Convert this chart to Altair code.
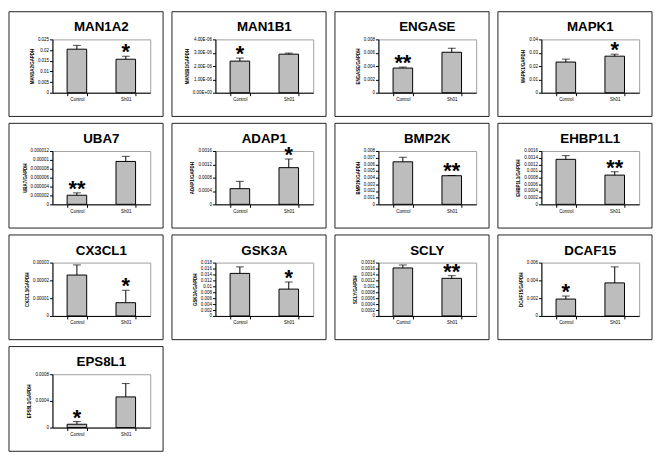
import altair as alt
import pandas as pd

genes = ["MAN1A2", "MAN1B1", "ENGASE", "MAPK1", "UBA7", "ADAP1", "BMP2K",
         "EHBP1L1", "CX3CL1", "GSK3A", "SCLY", "DCAF15", "EPS8L1"]
groups = ["Control", "Sh01"]

control_mean = [0.0204, 2.37e-6, 0.0037, 0.023, 2.05e-6, 0.00047, 0.00638,
                0.00135, 2.3e-5, 0.01436, 0.00162, 0.0019, 0.00005]
control_err = [0.0018, 0.23e-6, 0.00015, 0.0022, 0.53e-6, 0.00022, 0.00068,
               0.00011, 0.57e-5, 0.0022, 0.0001, 0.00034, 0.00004]
sh01_mean = [0.0157, 2.89e-6, 0.00607, 0.0274, 9.65e-6, 0.0011, 0.00429,
             0.000877, 0.745e-5, 0.00906, 0.00127, 0.00372, 0.00046]
sh01_err = [0.0014, 0.08e-6, 0.0006, 0.0015, 1.15e-6, 0.00026, 0.00003,
            0.0001, 0.7e-5, 0.0024, 0.00009, 0.0018, 0.0002]
stars_control = ["", "*", "**", "", "**", "", "", "", "", "", "", "*", "*"]
stars_sh01 = ["*", "", "", "*", "", "*", "**", "**", "*", "*", "**", "", ""]

y_ticks = [
    [0, 0.005, 0.01, 0.015, 0.02, 0.025],
    [0, 1e-6, 2e-6, 3e-6, 4e-6],
    [0, 0.002, 0.004, 0.006, 0.008],
    [0, 0.01, 0.02, 0.03, 0.04],
    [0, 2e-6, 4e-6, 6e-6, 8e-6, 1e-5, 1.2e-5],
    [0, 0.0004, 0.0008, 0.0012, 0.0016],
    [0, 0.001, 0.002, 0.003, 0.004, 0.005, 0.006, 0.007, 0.008],
    [0, 0.0002, 0.0004, 0.0006, 0.0008, 0.001, 0.0012, 0.0014, 0.0016],
    [0, 1e-5, 2e-5, 3e-5],
    [0, 0.002, 0.004, 0.006, 0.008, 0.01, 0.012, 0.014, 0.016, 0.018],
    [0, 0.0002, 0.0004, 0.0006, 0.0008, 0.001, 0.0012, 0.0014, 0.0016, 0.0018],
    [0, 0.002, 0.004, 0.006],
    [0, 0.0004, 0.0008],
]

FONT = "Liberation Sans"
PW, PH = 99, 54


def panel(i):
    g = genes[i]
    df = pd.DataFrame({
        "group": groups,
        "value": [control_mean[i], sh01_mean[i]],
        "err": [control_err[i], sh01_err[i]],
        "star": [stars_control[i], stars_sh01[i]],
    })
    df["top"] = df["value"] + df["err"]
    ticks = y_ticks[i]
    yscale = alt.Scale(domain=[ticks[0], ticks[-1]], nice=False, zero=True)
    axis_kw = dict(title=f"{g}/GAPDH", values=ticks, grid=False)
    if g == "MAN1B1":
        axis_kw["labelExpr"] = ("replace(replace(upper(format(datum.value, '.2e')), "
                                "'E-', 'E-0'), 'E+', 'E+0')")
    else:
        axis_kw["format"] = "~g"
    yaxis = alt.Axis(**axis_kw)
    xenc = alt.X("group:N", sort=groups,
                 scale=alt.Scale(paddingInner=0.6, paddingOuter=0.3),
                 axis=alt.Axis(title=None, labelAngle=0, tickBand="extent"))

    base = alt.Chart(df)
    bars = base.mark_bar(color="#bdbdbd", stroke="black", strokeWidth=1).encode(
        x=xenc, y=alt.Y("value:Q", scale=yscale, axis=yaxis))
    rule = base.mark_rule(color="black", strokeWidth=1).encode(
        x=xenc, y=alt.Y("value:Q", scale=yscale, axis=yaxis), y2="top:Q")
    cap = base.mark_tick(color="black", thickness=1, size=8).encode(
        x=xenc, y=alt.Y("top:Q", scale=yscale, axis=yaxis))
    star = base.mark_text(font=FONT, fontSize=22, fontWeight="bold",
                          align="center", baseline="alphabetic", dy=3,
                          color="black").encode(
        x=xenc, y=alt.Y("top:Q", scale=yscale, axis=yaxis), text="star:N")

    one = pd.DataFrame({"t": [g]})
    frame = alt.Chart(one).mark_rect(fillOpacity=0, stroke="#222222",
                                     strokeWidth=1).encode(
        x=alt.value(-44), x2=alt.value(112), y=alt.value(-28), y2=alt.value(78))
    title = alt.Chart(one).mark_text(font=FONT, fontSize=13.5, fontWeight="bold",
                                     align="center", baseline="alphabetic",
                                     color="black").encode(
        x=alt.value(PW / 2), y=alt.value(-8), text="t:N")
    return alt.layer(frame, bars, rule, cap, star, title).properties(
        width=PW, height=PH)


chart = alt.concat(*[panel(i) for i in range(len(genes))], columns=4,
                   spacing={"row": 5, "column": 7}).properties(
    padding=0, background="white"
).configure_view(
    stroke="#a0a0a0", strokeWidth=1
).configure_axis(
    labelFont=FONT, titleFont=FONT, labelFontSize=4.5, titleFontSize=4.5,
    labelColor="black", titleColor="black", domainColor="black",
    tickColor="black", tickSize=3, domainWidth=1, labelPadding=1,
    titlePadding=3, titleFontWeight="bold"
)

chart.save("out.html", embed_options={"renderer": "svg", "actions": False})
